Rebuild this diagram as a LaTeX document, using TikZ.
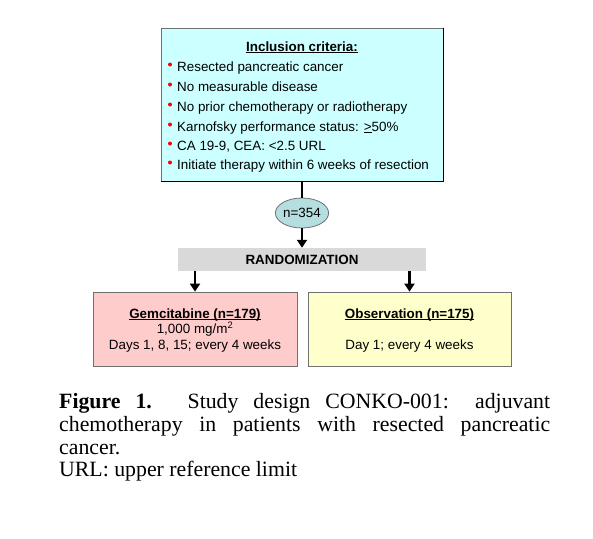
\documentclass[tikz,border=0pt]{standalone}
\usepackage{fontspec}
\setmainfont{Liberation Serif}
\newfontfamily\arialf{Liberation Sans}
\usetikzlibrary{arrows.meta,shapes.geometric}
\definecolor{topfill}{HTML}{CCFFFF}
\definecolor{ellfill}{HTML}{B4DEE0}
\definecolor{randfill}{HTML}{D9D9D9}
\definecolor{gemfill}{HTML}{FFCCCC}
\definecolor{obsfill}{HTML}{FFFFCC}
\definecolor{edgegray}{HTML}{707070}
\definecolor{dotred}{HTML}{FF0000}
\begin{document}
\begin{tikzpicture}[x=1pt,y=-1pt,
  sans/.style={font=\arialf\fontsize{13.4}{16}\selectfont, inner sep=0pt},
  capt/.style={font=\fontsize{21.8}{26}\selectfont, inner sep=0pt, anchor=base west},
  box/.style={draw=edgegray, line width=0.8pt, inner sep=0pt},
  bdot/.style={circle, fill=dotred, minimum size=4pt, inner sep=0pt},
  conn/.style={line width=2.6pt, draw=black},
  uline/.style={line width=0.75pt, draw=black},
  arr/.style={conn, -{Triangle[width=10pt,length=8pt]}}
]
\useasboundingbox (0,0) rectangle (593,538);
\fill[white] (0,0) rectangle (593,538);

% inclusion criteria box
\node[box, fill=topfill, minimum width=282pt, minimum height=153pt] (crit) at (302,104.5) {};
\draw[black, line width=0.8pt] (crit.north east) -- (crit.south east) -- (crit.south west);
\node[sans, anchor=base] (title) at (302,51) {\textbf{Inclusion criteria:}};
\draw[uline] ([yshift=-1.8pt]title.base west) -- ([yshift=-1.8pt]title.base east);
\node[bdot] (d1) at (170,64.5) {};
\node[bdot] (d2) at (170,84.5) {};
\node[bdot] (d3) at (170,104.5) {};
\node[bdot] (d4) at (170,124.5) {};
\node[bdot] (d5) at (170,143.5) {};
\node[bdot] (d6) at (170,162.5) {};
\node[sans, anchor=base west] (c1) at (177,71) {Resected pancreatic cancer};
\node[sans, anchor=base west] (c2) at (177,91) {No measurable disease};
\node[sans, anchor=base west] (c3) at (177,111) {No prior chemotherapy or radiotherapy};
\node[sans, anchor=base west] (c4) at (177,131) {Karnofsky performance status: \underline{>}50\%};
\node[sans, anchor=base west] (c5) at (177,150) {CA 19-9, CEA: <2.5 URL};
\node[sans, anchor=base west] (c6) at (177,169) {Initiate therapy within 6 weeks of resection};

% n=354
\node[ellipse, box, fill=ellfill, minimum width=50pt, minimum height=30pt, sans] (n) at (302,213) {n=354};
\draw[conn] (crit.south) -- (n.north);

% randomization
\node[fill=randfill, minimum width=248pt, minimum height=23pt, sans] (rand) at (302,259.5) {\textbf{RANDOMIZATION}};
\draw[arr] (n.south) -- (rand.north);

% arms
\node[box, fill=gemfill, minimum width=204pt, minimum height=74pt] (gem) at (195,329) {};
\node[box, fill=obsfill, minimum width=203pt, minimum height=74pt] (obs) at (409.5,329) {};
\draw[arr] (rand.south -| gem.north) -- (gem.north);
\draw[arr] (rand.south -| obs.north) -- (obs.north);

\node[sans, anchor=base] (g1) at (195,318) {\textbf{Gemcitabine (n=179)}};
\draw[uline] ([yshift=-1.8pt]g1.base west) -- ([yshift=-1.8pt]g1.base east);
\node[sans, anchor=base] (g2) at (195,333.5) {1,000 mg/m\textsuperscript{2}};
\node[sans, anchor=base] (g3) at (195,349) {Days 1, 8, 15; every 4 weeks};
\node[sans, anchor=base] (o1) at (409.5,318) {\textbf{Observation (n=175)}};
\draw[uline] ([yshift=-1.8pt]o1.base west) -- ([yshift=-1.8pt]o1.base east);
\node[sans, anchor=base] (o2) at (409.5,349) {Day 1; every 4 weeks};

% caption
\node[capt] (cap1) at (59,408) {\makebox[491pt][s]{\textbf{Figure 1.} Study design CONKO-001: adjuvant}};
\node[capt] (cap2) at (59,431) {\makebox[491pt][s]{chemotherapy in patients with resected pancreatic}};
\node[capt] (cap3) at (59,454) {cancer.};
\node[capt] (cap4) at (59,476) {URL: upper reference limit};
\end{tikzpicture}
\end{document}
